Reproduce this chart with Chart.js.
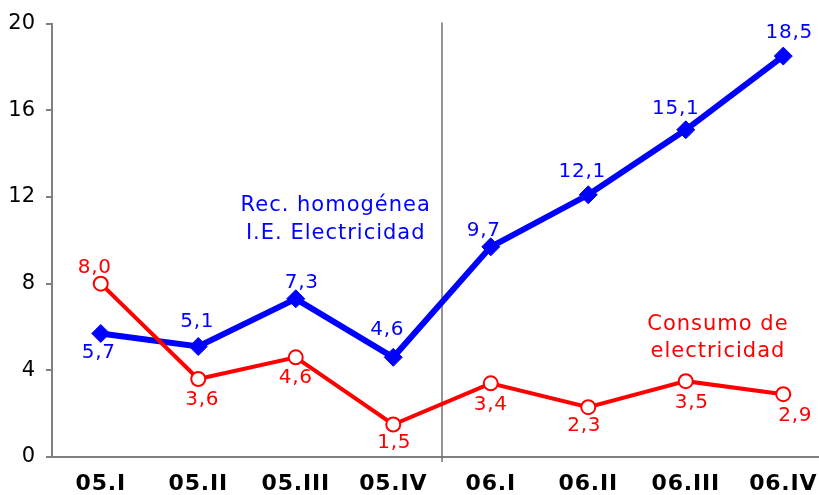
<!DOCTYPE html>
<html>
<head>
<meta charset="utf-8">
<script src="https://cdn.jsdelivr.net/npm/chart.js@4/dist/chart.umd.min.js"></script>
<style>
    html, body { margin: 0; padding: 0; background: #fff; }
    #wrap { width: 819px; height: 495px; overflow: hidden; position: relative; }
    #chart { position: absolute; left: 0; top: 0; }
</style>
</head>
<body>
<div id="wrap"><canvas id="chart" width="832" height="495"></canvas></div>
<script>
// Data
const quarters = ['05.I', '05.II', '05.III', '05.IV', '06.I', '06.II', '06.III', '06.IV'];
const recHomogenea = [5.7, 5.1, 7.3, 4.6, 9.7, 12.1, 15.1, 18.5];
const consumoElectricidad = [8.0, 3.6, 4.6, 1.5, 3.4, 2.3, 3.5, 2.9];
const yMin = 0;
const yMax = 20;
const yStep = 4;

// Label placement (pixels relative to each point)
const blueLabelOffsets = [[-2, 19], [-1, -25], [6, -16], [-6, -28], [-7, -16], [-6, -23], [-10, -21], [6, -23]];
const redLabelOffsets = [[-6, -16], [4, 21], [0, 20], [1, 18], [0, 21], [-4, 19], [6, 22], [12, 22]];

// Series captions, placed in data coordinates (category index, value)
const captions = [
    { lines: ['Rec. homogénea', 'I.E. Electricidad'], x: 2.41, y: [11.6, 10.3], color: '#0000ff' },
    { lines: ['Consumo de', 'electricidad'], x: 6.33, y: [6.13, 4.88], color: '#ff0000' }
];

const FONT = '"DejaVu Sans", Verdana, sans-serif';
const AXIS_COLOR = '#808080';

function fmt(v) {
    return v.toFixed(1).replace('.', ',');
}

// Vertical separator between 2005 and 2006
const separatorPlugin = {
    id: 'separator',
    beforeDatasetsDraw(chart) {
        const x = chart.scales.x;
        const area = chart.chartArea;
        const px = (x.getPixelForValue(3) + x.getPixelForValue(4)) / 2;
        const ctx = chart.ctx;
        ctx.save();
        ctx.strokeStyle = '#707070';
        ctx.lineWidth = 1.5;
        ctx.beginPath();
        ctx.moveTo(px, area.top - 1);
        ctx.lineTo(px, area.bottom + 5);
        ctx.stroke();
        ctx.restore();
    }
};

// Value labels, captions and bold category labels
const textPlugin = {
    id: 'texts',
    afterDatasetsDraw(chart) {
        const ctx = chart.ctx;
        ctx.save();
        ctx.textAlign = 'center';
        ctx.textBaseline = 'middle';
        ctx.letterSpacing = '0.8px';
        ctx.font = '20px ' + FONT;
        chart.data.datasets.forEach((ds, i) => {
            const meta = chart.getDatasetMeta(i);
            const offsets = ds.labelOffsets;
            ctx.fillStyle = ds.borderColor;
            meta.data.forEach((pt, j) => {
                ctx.fillText(fmt(ds.data[j]), pt.x + offsets[j][0], pt.y + offsets[j][1]);
            });
        });

        // captions
        ctx.font = '21px ' + FONT;
        ctx.letterSpacing = '1px';
        const xs = chart.scales.x;
        const ys = chart.scales.y;
        captions.forEach(c => {
            ctx.fillStyle = c.color;
            const cx = xs.left + (c.x + 0.5) * (xs.width / quarters.length);
            c.lines.forEach((line, k) => {
                ctx.fillText(line, cx, ys.getPixelForValue(c.y[k]));
            });
        });

        // category labels
        ctx.font = 'bold 22px ' + FONT;
        ctx.letterSpacing = '0.8px';
        ctx.fillStyle = '#000';
        ctx.textBaseline = 'top';
        quarters.forEach((q, i) => {
            ctx.fillText(q, xs.getPixelForValue(i), xs.top + 16);
        });
        ctx.restore();
    }
};

const ctx = document.getElementById('chart').getContext('2d');
new Chart(ctx, {
    type: 'line',
    data: {
        labels: quarters,
        datasets: [
            {
                label: 'Rec. homogénea I.E. Electricidad',
                data: recHomogenea,
                borderColor: '#0000ff',
                backgroundColor: '#0000ff',
                borderWidth: 6,
                pointStyle: 'rectRot',
                pointRadius: 9,
                pointBorderWidth: 1,
                pointBackgroundColor: '#0000ff',
                tension: 0,
                order: 1,
                labelOffsets: blueLabelOffsets
            },
            {
                label: 'Consumo de electricidad',
                data: consumoElectricidad,
                borderColor: '#ff0000',
                backgroundColor: '#ffffff',
                borderWidth: 4,
                pointStyle: 'circle',
                pointRadius: 7,
                pointBorderWidth: 2,
                pointBackgroundColor: '#ffffff',
                pointBorderColor: '#ff0000',
                tension: 0,
                order: 0,
                labelOffsets: redLabelOffsets
            }
        ]
    },
    options: {
        responsive: false,
        devicePixelRatio: 1,
        animation: false,
        layout: { autoPadding: false, padding: { top: 23, left: 0, right: 0, bottom: 0 } },
        plugins: {
            legend: { display: false },
            tooltip: { enabled: false }
        },
        scales: {
            x: {
                type: 'category',
                offset: true,
                grid: { display: true, drawOnChartArea: false, drawTicks: false },
                border: { display: true, color: AXIS_COLOR, width: 2 },
                ticks: { display: false },
                afterFit(scale) { scale.height = 38; }
            },
            y: {
                min: yMin,
                max: yMax,
                ticks: {
                    stepSize: yStep,
                    padding: 11,
                    color: '#000',
                    font: { family: FONT, size: 21 }
                },
                grid: {
                    display: true,
                    drawOnChartArea: false,
                    drawTicks: true,
                    tickLength: 6,
                    color: AXIS_COLOR,
                    lineWidth: 2
                },
                border: { display: true, color: AXIS_COLOR, width: 2 },
                afterFit(scale) { scale.width = 52; }
            }
        }
    },
    plugins: [separatorPlugin, textPlugin]
});
</script>
</body>
</html>
